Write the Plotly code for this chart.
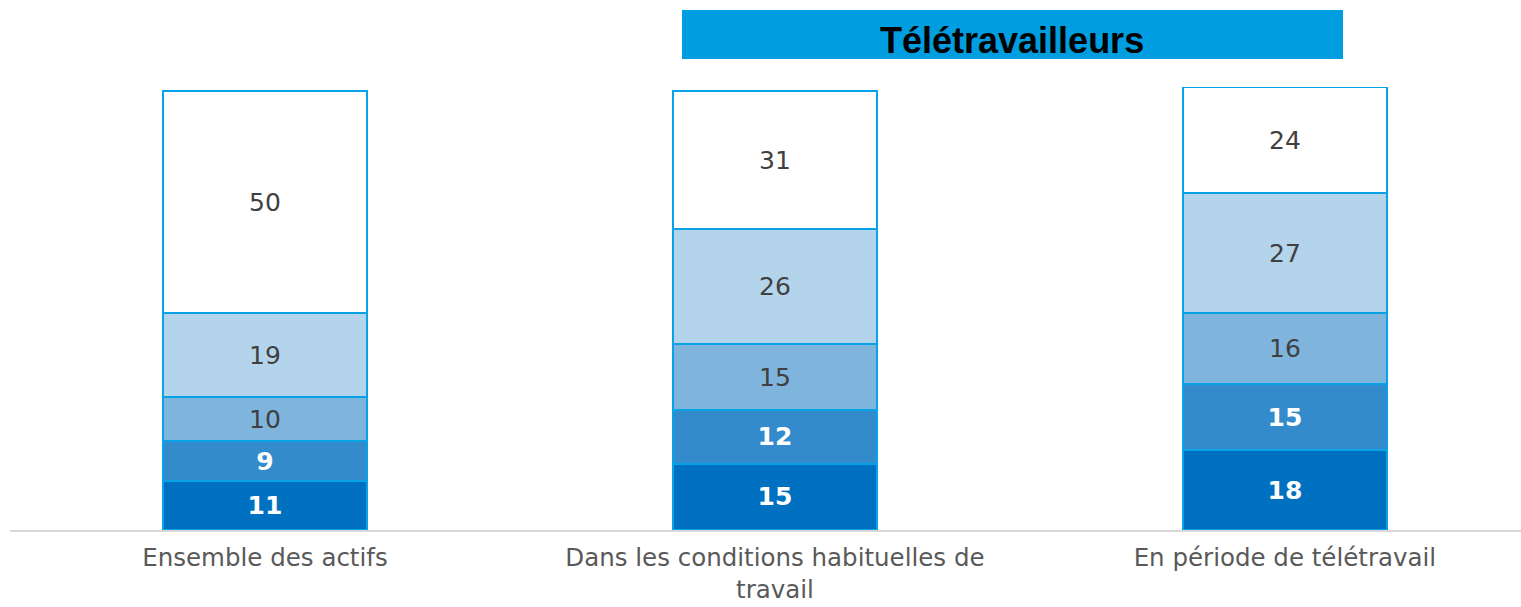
import plotly.graph_objects as go

categories = ["Ensemble des actifs",
              "Dans les conditions habituelles de<br>travail",
              "En période de télétravail"]

# stacked segments, bottom to top
seg1 = [11, 15, 18]
seg2 = [9, 12, 15]
seg3 = [10, 15, 16]
seg4 = [19, 26, 27]
seg5 = [50, 31, 24]

series = [seg1, seg2, seg3, seg4, seg5]
fills = ["#0070C0", "#338BCB", "#7FB5DC", "#B4D4EC", "#FFFFFF"]
text_colors = ["#FFFFFF", "#FFFFFF", "#404040", "#404040", "#404040"]
text_bold = [True, True, False, False, False]

FONT = "DejaVu Sans, Verdana, sans-serif"

fig = go.Figure()
for vals, fill, tc, bold in zip(series, fills, text_colors, text_bold):
    fig.add_trace(go.Bar(
        x=categories, y=vals, width=0.4,
        marker=dict(color=fill, line=dict(color="#08A2E6", width=2)),
        text=[f"<b>{v}</b>" if bold else str(v) for v in vals],
        textposition="inside", insidetextanchor="middle", textangle=0,
        constraintext="none",
        textfont=dict(family=FONT, size=25, color=tc),
        hoverinfo="skip", showlegend=False,
    ))

# plot area spans x 10..1521 px, y 87..530 px
PL, PW, PB, PH = 10, 1511, 77, 443


def px_x(x):
    return (x - PL) / PW


def px_y(y):
    return (607 - PB - y) / PH


fig.update_layout(
    barmode="stack",
    width=1521, height=607,
    margin=dict(l=PL, r=0, t=87, b=PB),
    paper_bgcolor="white", plot_bgcolor="white",
    xaxis=dict(range=[-0.5, 2.463], showgrid=False, zeroline=False,
               showline=True, linecolor="#D9D9D9", linewidth=2,
               ticks="", ticklabelstandoff=5, automargin=False,
               tickfont=dict(family=FONT, size=24.5, color="#595959")),
    yaxis=dict(range=[0, 100], visible=False, automargin=False),
    shapes=[dict(type="rect", xref="paper", yref="paper",
                 x0=px_x(682), x1=px_x(1343), y0=px_y(59), y1=px_y(10),
                 fillcolor="#009EE0", line=dict(width=0), layer="below")],
    annotations=[dict(text="<b>Télétravailleurs</b>", xref="paper", yref="paper",
                      x=px_x(1012), y=px_y(41),
                      showarrow=False, xanchor="center", yanchor="middle",
                      font=dict(family="Liberation Sans, Arial, sans-serif",
                                size=36, color="#000000"))],
)

fig.write_html("out.html")
